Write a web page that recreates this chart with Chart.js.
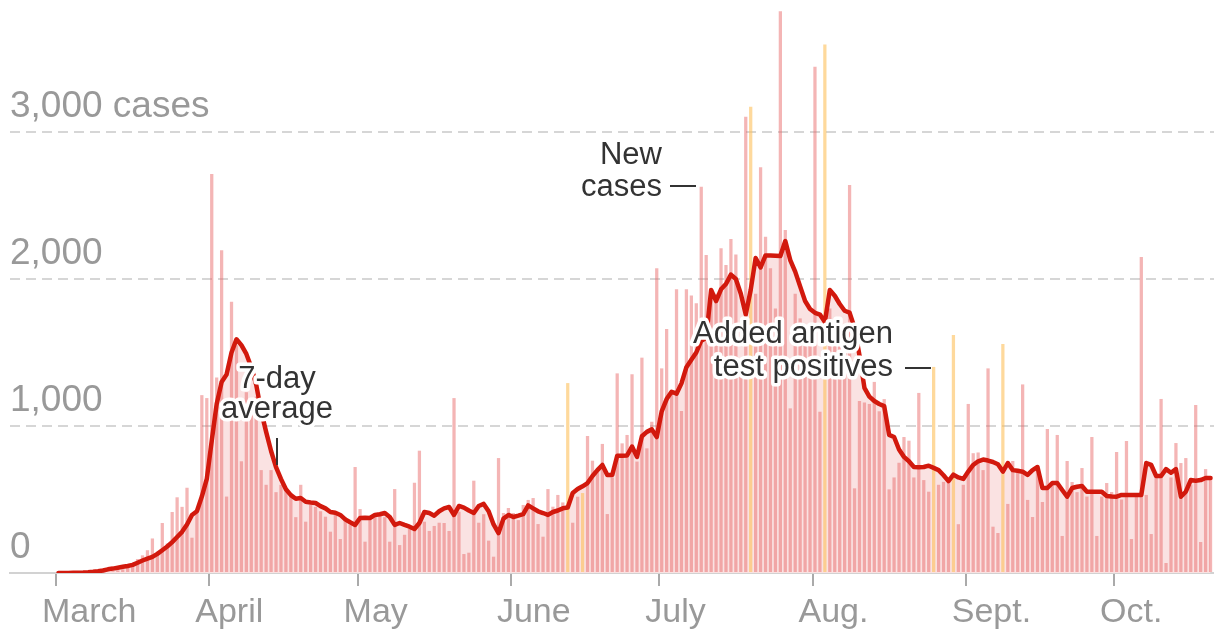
<!DOCTYPE html>
<html>
<head>
<meta charset="utf-8">
<script src="https://cdn.jsdelivr.net/npm/chart.js@4.4.1/dist/chart.umd.min.js"></script>
<style>
  html, body { margin: 0; padding: 0; background: #fff; }
</style>
</head>
<body>
<canvas id="casesChart" width="1214" height="632"></canvas>
<script>
// day 0 = March 1
const monthNames = ['March', 'April', 'May', 'June', 'July', 'Aug.', 'Sept.', 'Oct.'];
const monthStartDays = [0, 31, 61, 92, 122, 153, 184, 214];
const yTickValues = [0, 1000, 2000, 3000];

// days where the bar is antigen test positives (yellow)
const antigenDays = [103, 106, 140, 155, 177, 181, 191];

const newCases = [
  0, 0, 0, 0, 0, 0, 1, 2, 3, 5,
  8, 12, 18, 25, 40, 60, 95, 120, 155, 235,
  135, 340, 200, 415, 515, 450, 580, 240, 408, 1210,
  1190, 2715, 1330, 2195, 520, 1846, 1550, 760, 1230, 1140,
  1200, 700, 600, 700, 550, 600, 560, 520, 380, 600,
  349, 463, 450, 420, 383, 281, 400, 231, 380, 330,
  721, 435, 213, 360, 390, 400, 380, 213, 571, 190,
  260, 300, 614, 832, 349, 286, 320, 342, 340, 286,
  1190, 417, 129, 138, 628, 342, 400, 220, 111, 782,
  408, 442, 408, 360, 463, 497, 510, 333, 247, 571,
  451, 531, 480, 1292, 342, 519, 544, 932, 764, 689,
  878, 401, 650, 1358, 882, 939, 1352, 758, 1465, 848,
  1029, 2073, 1392, 1660, 1234, 1930, 1102, 1930, 1887, 1835,
  2628, 2163, 1937, 1900, 2209, 2095, 2272, 2167, 1400, 3104,
  3172, 1900, 2760, 2288, 2073, 1800, 3822, 2333, 1120, 1900,
  1732, 1600, 1700, 3444, 1097, 3596, 1800, 1700, 1600, 1500,
  2639, 576, 1170, 1160, 1150, 1300, 1100, 1183, 569, 650,
  750, 925, 900, 650, 1225, 632, 553, 1402, 600, 620,
  640, 1619, 332, 600, 1150, 815, 820, 700, 1392, 315,
  272, 1558, 470, 762, 700, 1283, 497, 381, 700, 483,
  980, 600, 939, 252, 762, 619, 550, 714, 520, 925,
  252, 520, 612, 551, 823, 500, 898, 231, 520, 2150,
  531, 265, 650, 1184, 68, 650, 884, 748, 782, 600,
  1143, 211, 707, 640
];

const sevenDayAvg = [
  0, 0, 0, 1, 2, 3, 5, 8, 12, 17, 25,
  30, 36, 42, 48, 55, 70, 85, 98, 110, 130,
  155, 180, 210, 245, 280, 330, 395, 420, 520, 640,
  900, 1150, 1300, 1350, 1500, 1590, 1550, 1490, 1400, 1280,
  1100, 960, 830, 720, 640, 570, 530, 505, 510, 485,
  480, 476, 455, 440, 415, 410, 395, 365, 345, 327,
  374, 376, 374, 395, 400, 408, 381, 327, 340, 327,
  315, 299, 340, 415, 408, 390, 420, 440, 449, 395,
  456, 445, 425, 408, 456, 470, 420, 330, 272, 370,
  395, 381, 390, 400, 460, 440, 420, 408, 395, 415,
  425, 440, 445, 544, 571, 590, 612, 660, 700, 735,
  667, 667, 798, 798, 800, 860, 790, 930, 960, 977,
  925, 1100, 1183, 1233, 1220, 1290, 1400, 1450, 1500, 1580,
  1600, 1925, 1850, 1930, 1966, 2030, 2000, 1900, 1758, 1925,
  2143, 2079, 2160, 2160, 2158, 2156, 2258, 2129, 2050, 1950,
  1850, 1796, 1770, 1758, 1707, 1925, 1886, 1830, 1784, 1771,
  1668, 1480, 1260, 1200, 1170, 1150, 1135, 940, 925, 840,
  790, 760, 721, 720, 721, 730, 715, 700, 665, 625,
  669, 650, 640, 690, 735, 760, 772, 765, 755, 740,
  690, 748, 700, 695, 689, 667, 700, 721, 578, 578,
  612, 612, 565, 519, 578, 587, 592, 553, 553, 553,
  553, 524, 520, 519, 531, 531, 531, 531, 531, 748,
  735, 660, 660, 707, 682, 707, 519, 553, 632, 628,
  632, 646, 646
];

const FONT = '"Liberation Sans", Arial, sans-serif';
const pink = 'rgba(232,100,100,0.48)';
const yellow = 'rgba(253,192,90,0.6)';

function haloText(ctx, text, x, y, align) {
  ctx.textAlign = align;
  ctx.lineJoin = 'round';
  ctx.lineWidth = 7;
  ctx.strokeStyle = '#fff';
  ctx.strokeText(text, x, y);
  ctx.fillStyle = '#333';
  ctx.fillText(text, x, y);
}

function stroke(ctx, x1, y1, x2, y2) {
  ctx.beginPath();
  ctx.moveTo(x1, y1);
  ctx.lineTo(x2, y2);
  ctx.stroke();
}

// text labels on the chart
const notes = {
  id: 'notes',
  afterDraw(chart) {
    const ctx = chart.ctx;
    ctx.save();
    ctx.font = '31px ' + FONT;
    ctx.textBaseline = 'alphabetic';

    haloText(ctx, '7-day', 277, 388, 'center');
    haloText(ctx, 'average', 277, 418, 'center');

    haloText(ctx, 'New', 662, 164, 'right');
    haloText(ctx, 'cases', 662, 196, 'right');

    haloText(ctx, 'Added antigen', 893, 343, 'right');
    haloText(ctx, 'test positives', 893, 376, 'right');

    ctx.strokeStyle = '#333';
    ctx.lineWidth = 2;
    stroke(ctx, 277, 438, 277, 465);
    stroke(ctx, 670, 186, 696, 186);
    stroke(ctx, 905, 368, 931, 368);
    ctx.restore();
  }
};

const ctx = document.getElementById('casesChart').getContext('2d');

const casesChart = new Chart(ctx, {
  type: 'bar',
  data: {
    datasets: [
      {
        type: 'line',
        data: sevenDayAvg.map((v, d) => ({ x: d, y: v })),
        borderColor: '#d2190d',
        borderWidth: 4.5,
        borderJoinStyle: 'round',
        borderCapStyle: 'round',
        pointRadius: 0,
        tension: 0,
        fill: 'origin',
        backgroundColor: '#fae2e2',
        order: 0
      },
      {
        type: 'bar',
        data: newCases.map((v, d) => ({ x: d, y: v })),
        backgroundColor: newCases.map((v, d) => antigenDays.includes(d) ? yellow : pink),
        barPercentage: 0.66,
        categoryPercentage: 1,
        order: 1
      }
    ]
  },
  options: {
    responsive: false,
    animation: false,
    devicePixelRatio: 1,
    layout: { padding: { left: 10, right: 0, top: 0, bottom: 0 } },
    plugins: {
      legend: { display: false },
      tooltip: { enabled: false },
      filler: { drawTime: 'beforeDatasetsDraw' }
    },
    scales: {
      x: {
        type: 'linear',
        min: -9.8,
        max: 233.7,
        offset: false,
        afterBuildTicks: s => { s.ticks = monthStartDays.map(d => ({ value: d - 0.5 })); },
        afterFit: s => { s.height = 59; s.paddingLeft = 0; s.paddingRight = 0; },
        ticks: {
          autoSkip: false,
          maxRotation: 0,
          align: 'start',
          labelOffset: -14,
          padding: 6,
          color: '#999',
          font: { family: FONT, size: 34 },
          callback: (v, i) => monthNames[i]
        },
        grid: { offset: false, drawOnChartArea: false, drawTicks: true, tickLength: 13, color: '#aaa', lineWidth: 2 },
        border: { display: true, color: '#d2d2d2', width: 2 }
      },
      y: {
        min: 0,
        max: 3898,
        z: 1,
        afterBuildTicks: s => { s.ticks = yTickValues.map(v => ({ value: v })); },
        afterFit: s => { s.width = 0; s.paddingTop = 0; s.paddingBottom = 0; },
        ticks: {
          mirror: true,
          padding: 0,
          labelOffset: -25,
          color: '#999',
          font: { family: FONT, size: 37 },
          callback: v => v === 3000 ? '3,000 cases' : v.toLocaleString('en-US')
        },
        grid: {
          drawTicks: false,
          color: c => c.tick && c.tick.value === 0 ? 'rgba(0,0,0,0)' : 'rgba(200,200,200,0.75)',
          lineWidth: 2
        },
        border: { display: false, dash: [10, 6] }
      }
    }
  },
  plugins: [notes]
});
</script>
</body>
</html>
